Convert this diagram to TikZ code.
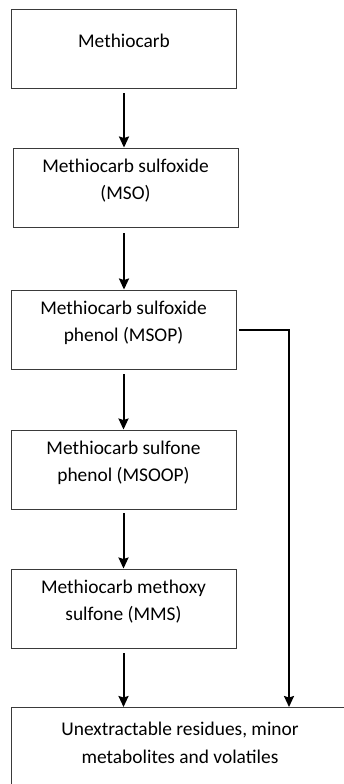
\documentclass[tikz,border=0pt]{standalone}
\usepackage{fontspec}
\setmainfont{Carlito}
\usetikzlibrary{arrows.meta, positioning, calc}
\definecolor{borde}{HTML}{3A3A3A}
\tikzset{
  caja/.style={rectangle, draw=borde, line width=0.9pt, minimum width=225pt, minimum height=79pt,
               text centered, align=center, font=\fontsize{19.4}{27.5}\selectfont, inner sep=0pt,
               text depth=16pt},
  flecha/.style={line width=2pt, -{Stealth[length=11pt, width=10pt, inset=1.5pt]}, color=black},
  texto/.style={font=\fontsize{19.4}{27.5}\selectfont, align=center, inner sep=0pt}
}
\begin{document}
\begin{tikzpicture}[x=1pt, y=-1pt]
  \useasboundingbox (0,0) rectangle (343,784);
  \node (metc) [caja] at (124,48.5) {Methiocarb};
  \node (mso) [caja] at (125.5,187.5) {Methiocarb sulfoxide\\(MSO)};
  \node (msop) [caja] at (123.5,329.5) {Methiocarb sulfoxide\\phenol (MSOP)};
  \node (msoop) [caja] at (123.5,469.5) {Methiocarb sulfone\\phenol (MSOOP)};
  \node (mms) [caja] at (123.5,608.5) {Methiocarb methoxy\\sulfone (MMS)};
  \node (resid) [caja, minimum width=338pt, minimum height=100pt, anchor=north west] at (11,707) {};
  \node (residtxt) [texto, anchor=north] at (180,722) {Unextractable residues, minor\\metabolites and volatiles};
  \coordinate (lado) at (289,0);
  \draw [flecha] ([yshift=-5pt]metc.south -| 124,0) -- (mso.north -| 124,0);
  \draw [flecha] ([yshift=-6pt]mso.south -| 124,0) -- (msop.north -| 124,0);
  \draw [flecha] ([yshift=-5pt]msop.south) -- (msoop.north);
  \draw [flecha] ([yshift=-4pt]msoop.south) -- (mms.north);
  \draw [flecha] ([yshift=-5pt]mms.south) -- (mms.south |- resid.north);
  \draw [flecha] ([xshift=3pt]msop.east) -| (resid.north -| lado);
\end{tikzpicture}
\end{document}
